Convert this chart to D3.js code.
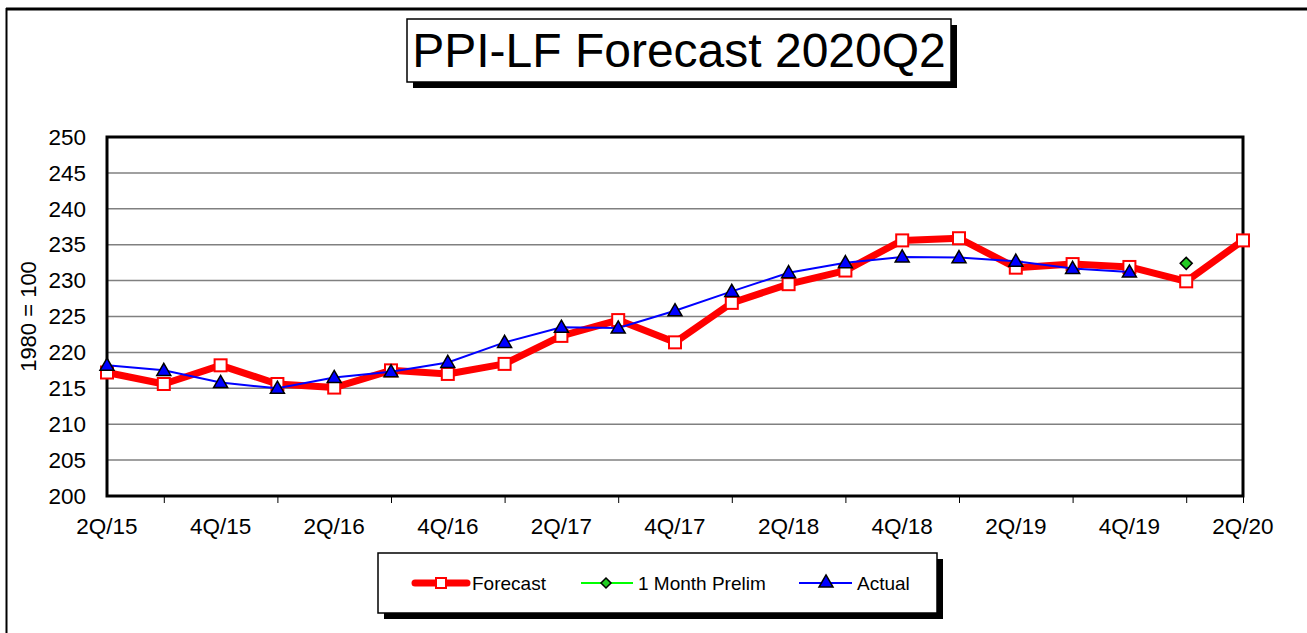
<!DOCTYPE html>
<html>
<head>
<meta charset="utf-8">
<script src="https://cdn.jsdelivr.net/npm/d3@7"></script>
<style>
  body { margin: 0; background: #fff; }
  svg { display: block; font-family: "Liberation Sans", Arial, sans-serif; }
</style>
</head>
<body>
<div id="chart"></div>
<script>
// quarters on the x axis
const quarters = ['2Q/15','3Q/15','4Q/15','1Q/16','2Q/16','3Q/16','4Q/16','1Q/17','2Q/17','3Q/17',
  '4Q/17','1Q/18','2Q/18','3Q/18','4Q/18','1Q/19','2Q/19','3Q/19','4Q/19','1Q/20','2Q/20'];
const forecast = [217.2, 215.6, 218.2, 215.6, 215.1, 217.5, 217.0, 218.4, 222.3, 224.5,
  221.4, 226.9, 229.5, 231.4, 235.6, 235.9, 231.8, 232.3, 231.9, 229.9, 235.6];
const actual = [218.2, 217.5, 215.8, 215.0, 216.5, 217.3, 218.6, 221.4, 223.5, 223.4,
  225.8, 228.5, 231.1, 232.5, 233.3, 233.2, 232.7, 231.7, 231.2, null, null];
const prelim = [null, null, null, null, null, null, null, null, null, null,
  null, null, null, null, null, null, null, null, null, 232.4, null];
const yTicks = [200, 205, 210, 215, 220, 225, 230, 235, 240, 245, 250];

const W = 1307, H = 633;
const plot = { left: 107, right: 1243, top: 137, bottom: 496 };

const svg = d3.select('#chart').append('svg').attr('width', W).attr('height', H);

// outer frame
svg.append('line').attr('x1', 6).attr('x2', W).attr('y1', 9).attr('y2', 9)
  .attr('stroke', '#000').attr('stroke-width', 3);
svg.append('line').attr('x1', 6.5).attr('x2', 6.5).attr('y1', 8).attr('y2', H)
  .attr('stroke', '#000').attr('stroke-width', 2);

// title box
svg.append('rect').attr('x', 413).attr('y', 25).attr('width', 544).attr('height', 63).attr('fill', '#000');
svg.append('rect').attr('x', 407).attr('y', 19).attr('width', 544).attr('height', 63)
  .attr('fill', '#fff').attr('stroke', '#000').attr('stroke-width', 1.5);
svg.append('text').attr('x', 679).attr('y', 67).attr('text-anchor', 'middle')
  .attr('font-size', 48).text('PPI-LF Forecast 2020Q2');

const x = d3.scalePoint().domain(quarters).range([plot.left, plot.right]);
const y = d3.scaleLinear().domain([200, 250]).range([plot.bottom, plot.top]);

// gridlines
svg.append('g').selectAll('line').data(yTicks.slice(1, -1)).enter().append('line')
  .attr('x1', plot.left).attr('x2', plot.right)
  .attr('y1', d => y(d)).attr('y2', d => y(d))
  .attr('stroke', '#808080').attr('stroke-width', 1.5);

// y axis
const yAxis = svg.append('g').attr('transform', `translate(${plot.left},0)`)
  .call(d3.axisLeft(y).tickValues(yTicks).tickSize(0).tickPadding(21));
yAxis.select('.domain').remove();
yAxis.attr('font-family', null).attr('font-size', 22.5);
yAxis.selectAll('text').attr('fill', '#000');

// x axis ticks at odd quarters, labels at even ones
const xAxis = svg.append('g').attr('transform', `translate(0,${plot.bottom})`)
  .call(d3.axisBottom(x).tickValues(quarters.filter((q, i) => i % 2 === 1 || i === 20))
    .tickSize(7).tickFormat(''));
xAxis.select('.domain').remove();
xAxis.selectAll('line').attr('stroke', '#000').attr('stroke-width', 1);
svg.append('g').selectAll('text').data(quarters.filter((q, i) => i % 2 === 0)).enter().append('text')
  .attr('x', d => x(d)).attr('y', 534).attr('text-anchor', 'middle')
  .attr('font-size', 22.5).text(d => d);

// y title
svg.append('text').attr('transform', `translate(36,${(plot.top + plot.bottom) / 2}) rotate(-90)`)
  .attr('text-anchor', 'middle').attr('font-size', 22).text('1980 = 100');

// plot frame
svg.append('rect').attr('x', plot.left).attr('y', plot.top)
  .attr('width', plot.right - plot.left).attr('height', plot.bottom - plot.top)
  .attr('fill', 'none').attr('stroke', '#000').attr('stroke-width', 3);

const tri = d3.symbol().type(d3.symbolTriangle).size(85);
const dia = 'M0,-6L6,0L0,6L-6,0Z';

// forecast
const lineF = d3.line().defined(d => d != null).x((d, i) => x(quarters[i])).y(d => y(d));
svg.append('path').datum(forecast).attr('d', lineF)
  .attr('fill', 'none').attr('stroke', '#ff0000').attr('stroke-width', 7).attr('stroke-linejoin', 'round');
svg.append('g').selectAll('rect').data(forecast).enter().append('rect')
  .attr('x', (d, i) => x(quarters[i]) - 6).attr('y', d => y(d) - 6)
  .attr('width', 12).attr('height', 12)
  .attr('fill', '#fff').attr('stroke', '#ff0000').attr('stroke-width', 2);

// actual
svg.append('path').datum(actual).attr('d', lineF)
  .attr('fill', 'none').attr('stroke', '#0000ff').attr('stroke-width', 2);
svg.append('g').selectAll('path').data(actual.map((v, i) => [v, i]).filter(d => d[0] != null)).enter()
  .append('path').attr('d', tri)
  .attr('transform', d => `translate(${x(quarters[d[1]])},${y(d[0]) + 1})`)
  .attr('fill', '#0000ff').attr('stroke', '#000').attr('stroke-width', 1.5);

// 1 month prelim
svg.append('g').selectAll('path').data(prelim.map((v, i) => [v, i]).filter(d => d[0] != null)).enter()
  .append('path').attr('d', dia)
  .attr('transform', d => `translate(${x(quarters[d[1]])},${y(d[0])})`)
  .attr('fill', '#22cc22').attr('stroke', '#000').attr('stroke-width', 1.5);

// legend
svg.append('rect').attr('x', 384).attr('y', 559).attr('width', 559).attr('height', 60).attr('fill', '#000');
svg.append('rect').attr('x', 378).attr('y', 553).attr('width', 559).attr('height', 60)
  .attr('fill', '#fff').attr('stroke', '#000').attr('stroke-width', 1.5);
const ly = 583;
const lg = svg.append('g');
lg.append('line').attr('x1', 415).attr('x2', 467).attr('y1', ly).attr('y2', ly)
  .attr('stroke', '#ff0000').attr('stroke-width', 7).attr('stroke-linecap', 'round');
lg.append('rect').attr('x', 436).attr('y', ly - 5).attr('width', 10).attr('height', 10)
  .attr('fill', '#fff').attr('stroke', '#ff0000').attr('stroke-width', 2);
lg.append('text').attr('x', 472).attr('y', ly + 7).attr('font-size', 19).text('Forecast');
lg.append('line').attr('x1', 581).attr('x2', 633).attr('y1', ly).attr('y2', ly)
  .attr('stroke', '#00ff00').attr('stroke-width', 2);
lg.append('path').attr('d', 'M0,-5L5,0L0,5L-5,0Z').attr('transform', `translate(606,${ly})`)
  .attr('fill', '#22cc22').attr('stroke', '#000').attr('stroke-width', 1.5);
lg.append('text').attr('x', 638).attr('y', ly + 7).attr('font-size', 19).text('1 Month Prelim');
lg.append('line').attr('x1', 799).attr('x2', 852).attr('y1', ly).attr('y2', ly)
  .attr('stroke', '#0000ff').attr('stroke-width', 2);
lg.append('path').attr('d', tri).attr('transform', `translate(826,${ly})`)
  .attr('fill', '#0000ff').attr('stroke', '#000').attr('stroke-width', 1.5);
lg.append('text').attr('x', 857).attr('y', ly + 7).attr('font-size', 19).text('Actual');
</script>
</body>
</html>
